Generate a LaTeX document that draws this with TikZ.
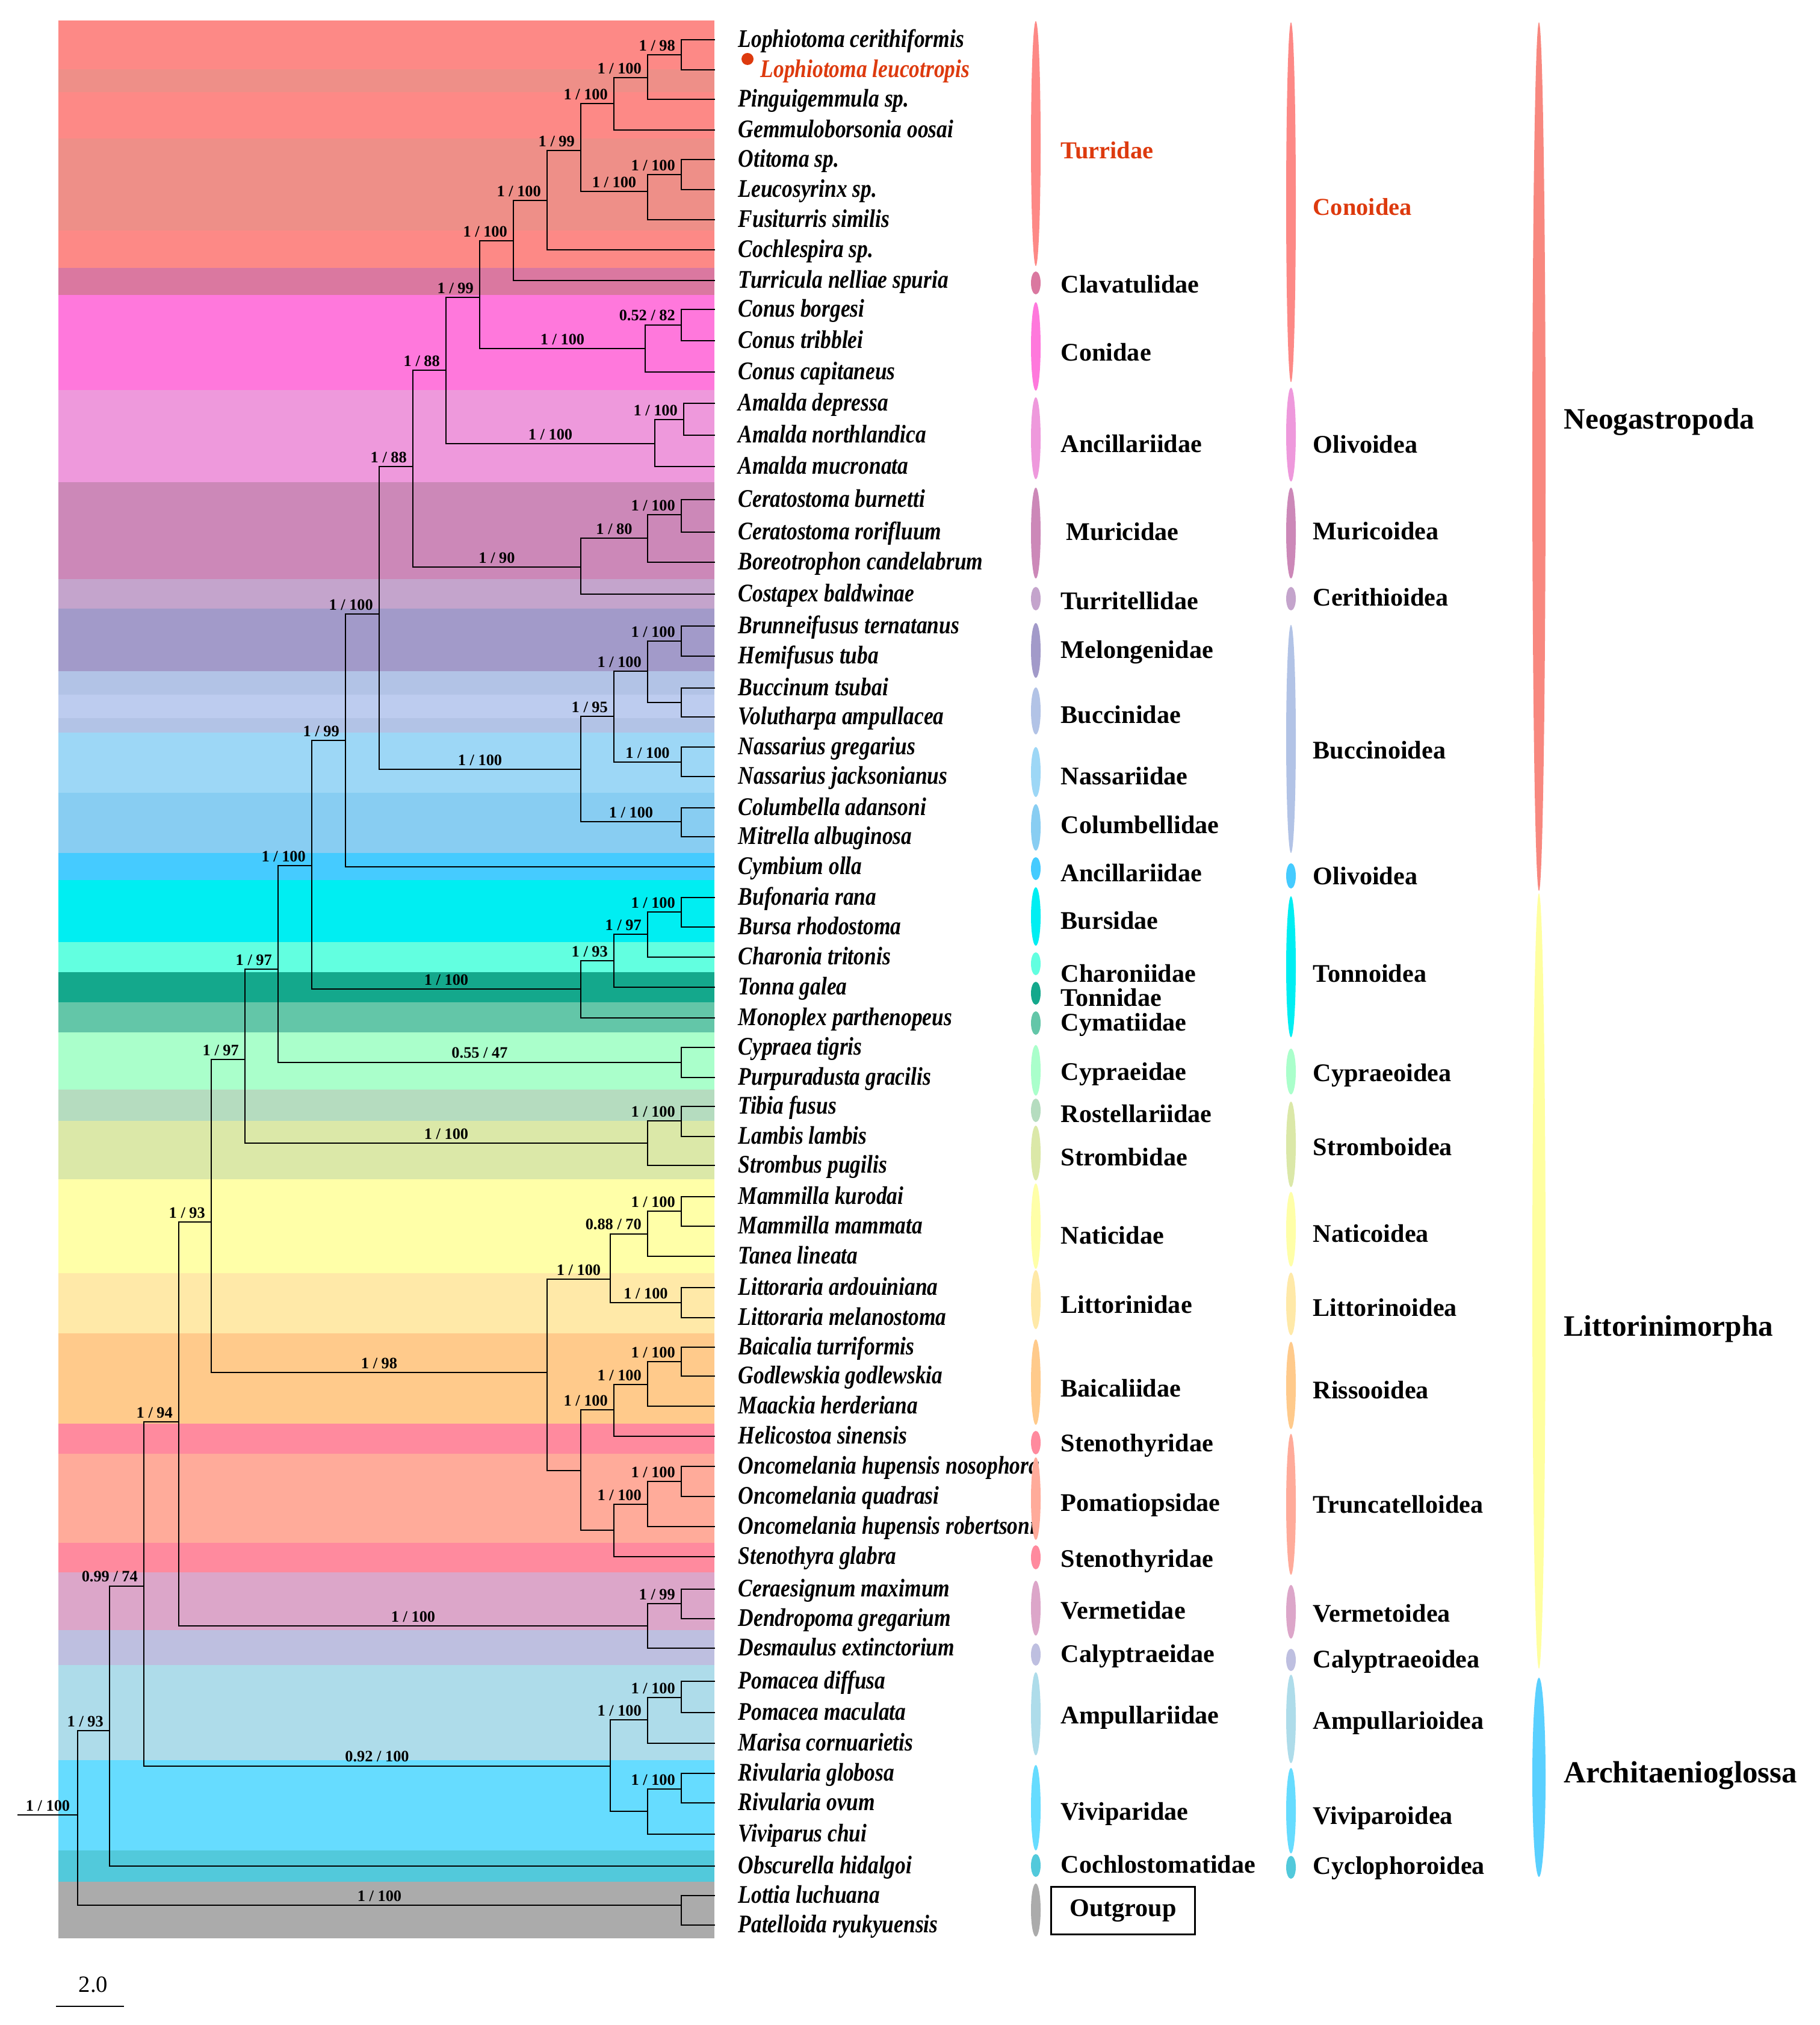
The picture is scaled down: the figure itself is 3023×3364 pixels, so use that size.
\documentclass[tikz,border=0pt]{standalone}
\usepackage{fontspec}
\setmainfont{Liberation Serif}
\newfontfamily\taxfont{Liberation Serif}[FakeStretch=0.84]
\usetikzlibrary{positioning}

\definecolor{hl}{HTML}{DD3A0E}
\definecolor{cTurr}{HTML}{FD8986}\definecolor{cTurrB}{HTML}{EE8F88}
\definecolor{cClav}{HTML}{DA78A0}\definecolor{cCon}{HTML}{FF78DC}
\definecolor{cAnc}{HTML}{EE99DC}\definecolor{cMur}{HTML}{CC88B8}
\definecolor{cCost}{HTML}{C4A4CC}\definecolor{cMel}{HTML}{A29AC9}
\definecolor{cBuc}{HTML}{B2C3E6}\definecolor{cBucB}{HTML}{BDCCEF}
\definecolor{cNas}{HTML}{9DD7F6}\definecolor{cCol}{HTML}{88CDF2}
\definecolor{cCym}{HTML}{45CBFF}\definecolor{cBur}{HTML}{00EEF2}
\definecolor{cCha}{HTML}{62FFE0}\definecolor{cTon}{HTML}{14A88C}
\definecolor{cCyma}{HTML}{63C6A8}\definecolor{cCyp}{HTML}{AAFFCB}
\definecolor{cRos}{HTML}{B5DCBF}\definecolor{cStr}{HTML}{DBE8A8}
\definecolor{cNat}{HTML}{FFFFA8}\definecolor{cLit}{HTML}{FFE9A8}
\definecolor{cBai}{HTML}{FFCA8B}\definecolor{cSte}{HTML}{FF8A9E}
\definecolor{cPom}{HTML}{FFAB9A}\definecolor{cVer}{HTML}{DCA6C9}
\definecolor{cCal}{HTML}{BEBFE0}\definecolor{cAmp}{HTML}{AEDCEA}
\definecolor{cViv}{HTML}{66DCFF}\definecolor{cCoc}{HTML}{52C9DB}
\definecolor{cOut}{HTML}{ABABAB}\definecolor{cNeo}{HTML}{F8887F}
\definecolor{cLtm}{HTML}{FFFFA0}\definecolor{cArc}{HTML}{5AD0FF}

\tikzset{
  branch/.style={line width=0.8pt, line cap=rect},
  taxon/.style={anchor=base west, yshift=-3.5pt, inner sep=0pt, font=\taxfont\bfseries\itshape\fontsize{12}{14}\selectfont},
  sup/.style={pos=.75, above=1pt, inner sep=0.5pt, font=\bfseries\fontsize{7.5}{9}\selectfont},
  supr/.style={pos=1, anchor=south east, xshift=-2pt, yshift=1pt, inner sep=0.5pt, font=\bfseries\fontsize{7.5}{9}\selectfont},
  famtxt/.style={anchor=base west, yshift=-4pt, inner sep=0pt, font=\bfseries\fontsize{12}{14}\selectfont},
  ordtxt/.style={anchor=base west, yshift=-4.7pt, inner sep=0pt, font=\bfseries\fontsize{14}{16}\selectfont}
}
\newcommand{\band}[3]{\fill[#3] (97,#1) rectangle (1187,#2);}
\newcommand{\taxon}[3]{\coordinate (#1) at (1187,#2); \node[taxon] (#1n) at (1226,#2) {#3};}
\newcommand{\clade}[3]{\coordinate (#1) at (#2,#3);}
\newcommand{\brn}[2]{\draw[branch] (#1) |- (#2);}
\newcommand{\brS}[3]{\draw[branch] (#1) |- node[sup] {#3} (#2);}
\newcommand{\brR}[3]{\draw[branch] (#1) |- node[supr] {#3} (#2);}
\newcommand{\famlab}[6]{\fill[#4] (1721,{(#2+#3)/2}) ellipse [x radius=8, y radius={(#3-#2)/2}]; \node[famtxt] (#1) at (1762,#5) {#6};}
\newcommand{\sfamlab}[6]{\fill[#4] (2145,{(#2+#3)/2}) ellipse [x radius=8, y radius={(#3-#2)/2}]; \node[famtxt] (#1) at (2181,#5) {#6};}
\newcommand{\ordlab}[6]{\fill[#4] (2557,{(#2+#3)/2}) ellipse [x radius=11, y radius={(#3-#2)/2}]; \node[ordtxt] (#1) at (2598,#5) {#6};}

\begin{document}
\begin{tikzpicture}[x=0.01cm,y=-0.01cm]
\useasboundingbox (0,0) rectangle (3023,3364);
% coloured bands behind the tree
\band{34}{445}{cTurr} \band{115}{153}{cTurrB} \band{230}{383}{cTurrB}
\band{445}{490}{cClav} \band{490}{648}{cCon} \band{648}{801}{cAnc}
\band{801}{962}{cMur} \band{962}{1011}{cCost} \band{1011}{1115}{cMel}
\band{1115}{1217}{cBuc} \band{1154}{1193}{cBucB} \band{1217}{1317}{cNas}
\band{1317}{1417}{cCol} \band{1417}{1462}{cCym} \band{1462}{1565}{cBur}
\band{1565}{1615}{cCha} \band{1615}{1665}{cTon} \band{1665}{1715}{cCyma}
\band{1715}{1810}{cCyp} \band{1810}{1862}{cRos} \band{1862}{1959}{cStr}
\band{1959}{2115}{cNat} \band{2115}{2215}{cLit} \band{2215}{2365}{cBai}
\band{2365}{2415}{cSte} \band{2415}{2563}{cPom} \band{2563}{2612}{cSte}
\band{2612}{2708}{cVer} \band{2708}{2766}{cCal} \band{2766}{2924}{cAmp}
\band{2924}{3074}{cViv} \band{3074}{3126}{cCoc} \band{3126}{3220}{cOut}

% tips
\taxon{Lcer}{66}{Lophiotoma cerithiformis}
\coordinate (Lleu) at (1187,116); \node[taxon, text=hl] (Lleun) at (1263,116) {Lophiotoma leucotropis};
\node[circle, fill=hl, inner sep=0pt, minimum size=0.2cm] (mark) at (1242,98) {};
\taxon{Ping}{165}{Pinguigemmula sp.}
\taxon{Gemm}{216}{Gemmuloborsonia oosai}
\taxon{Otit}{265}{Otitoma sp.}
\taxon{Leuc}{315}{Leucosyrinx sp.}
\taxon{Fusi}{365}{Fusiturris similis}
\taxon{Coch}{415}{Cochlespira sp.}
\taxon{Turr}{466}{Turricula nelliae spuria}
\taxon{Cbor}{514}{Conus borgesi}
\taxon{Ctri}{566}{Conus tribblei}
\taxon{Ccap}{618}{Conus capitaneus}
\taxon{Adep}{670}{Amalda depressa}
\taxon{Anor}{723}{Amalda northlandica}
\taxon{Amuc}{775}{Amalda mucronata}
\taxon{Cbur}{830}{Ceratostoma burnetti}
\taxon{Cror}{884}{Ceratostoma rorifluum}
\taxon{Bore}{934}{Boreotrophon candelabrum}
\taxon{Cost}{987}{Costapex baldwinae}
\taxon{Brun}{1040}{Brunneifusus ternatanus}
\taxon{Hemi}{1090}{Hemifusus tuba}
\taxon{Bucc}{1143}{Buccinum tsubai}
\taxon{Volu}{1191}{Volutharpa ampullacea}
\taxon{Ngre}{1241}{Nassarius gregarius}
\taxon{Njac}{1290}{Nassarius jacksonianus}
\taxon{Colu}{1342}{Columbella adansoni}
\taxon{Mitr}{1390}{Mitrella albuginosa}
\taxon{Cymb}{1440}{Cymbium olla}
\taxon{Bufo}{1491}{Bufonaria rana}
\taxon{Burs}{1540}{Bursa rhodostoma}
\taxon{Char}{1590}{Charonia tritonis}
\taxon{Tonn}{1640}{Tonna galea}
\taxon{Mono}{1691}{Monoplex parthenopeus}
\taxon{Cypr}{1740}{Cypraea tigris}
\taxon{Purp}{1790}{Purpuradusta gracilis}
\taxon{Tibi}{1838}{Tibia fusus}
\taxon{Lamb}{1888}{Lambis lambis}
\taxon{Stro}{1936}{Strombus pugilis}
\taxon{Mkur}{1988}{Mammilla kurodai}
\taxon{Mmam}{2037}{Mammilla mammata}
\taxon{Tane}{2087}{Tanea lineata}
\taxon{Lard}{2139}{Littoraria ardouiniana}
\taxon{Lmel}{2189}{Littoraria melanostoma}
\taxon{Baic}{2238}{Baicalia turriformis}
\taxon{Godl}{2286}{Godlewskia godlewskia}
\taxon{Maac}{2336}{Maackia herderiana}
\taxon{Heli}{2386}{Helicostoa sinensis}
\taxon{Onos}{2436}{Oncomelania hupensis nosophora}
\taxon{Oqua}{2486}{Oncomelania quadrasi}
\taxon{Orob}{2536}{Oncomelania hupensis robertsoni}
\taxon{Sten}{2586}{Stenothyra glabra}
\taxon{Cera}{2640}{Ceraesignum maximum}
\taxon{Dend}{2689}{Dendropoma gregarium}
\taxon{Desm}{2738}{Desmaulus extinctorium}
\taxon{Pdif}{2793}{Pomacea diffusa}
\taxon{Pmac}{2845}{Pomacea maculata}
\taxon{Mari}{2896}{Marisa cornuarietis}
\taxon{Rglo}{2946}{Rivularia globosa}
\taxon{Rovu}{2995}{Rivularia ovum}
\taxon{Vivi}{3047}{Viviparus chui}
\taxon{Obsc}{3100}{Obscurella hidalgoi}
\taxon{Lott}{3149}{Lottia luchuana}
\taxon{Pate}{3198}{Patelloida ryukyuensis}

% internal nodes
\clade{nLL}{1132}{91} \clade{nLP}{1076}{129} \clade{nLPG}{1020}{172}
\clade{nOL}{1132}{290} \clade{nOLF}{1076}{318} \clade{nT1}{965}{250}
\clade{nT2}{909}{333} \clade{nT3}{853}{400} \clade{nC1}{1132}{540}
\clade{nC2}{1072}{579} \clade{nTC}{797}{494} \clade{nA1}{1136}{697}
\clade{nA2}{1088}{737} \clade{nTCA}{741}{615} \clade{nM1}{1132}{855}
\clade{nM2}{1076}{894} \clade{nM3}{965}{942} \clade{nTCAM}{686}{775}
\clade{nMe}{1132}{1065} \clade{nBu}{1132}{1167} \clade{nMB}{1076}{1115}
\clade{nNa}{1132}{1266} \clade{nMBN}{1020}{1190} \clade{nCo}{1132}{1365}
\clade{nBuc}{965}{1278} \clade{nNeo1}{630}{1020} \clade{nNeo2}{574}{1230}
\clade{nTo1}{1132}{1515} \clade{nTo2}{1076}{1552} \clade{nTo3}{1020}{1596}
\clade{nTo4}{965}{1643} \clade{nNT}{518}{1438} \clade{nCy}{1132}{1765}
\clade{nNTC}{462}{1610} \clade{nS1}{1132}{1862} \clade{nS2}{1076}{1899}
\clade{nNTCS}{407}{1760} \clade{nN1}{1132}{2012} \clade{nN2}{1076}{2050}
\clade{nLi}{1132}{2164} \clade{nNL}{1014}{2125} \clade{nB1}{1132}{2262}
\clade{nB2}{1076}{2300} \clade{nB3}{1020}{2342} \clade{nP1}{1132}{2461}
\clade{nP2}{1076}{2499} \clade{nP3}{1020}{2542} \clade{nRS}{965}{2443}
\clade{nNLR}{909}{2280} \clade{nLt1}{351}{2030} \clade{nV1}{1132}{2664}
\clade{nV2}{1076}{2701} \clade{nLt2}{297}{2362} \clade{nAp1}{1132}{2820}
\clade{nAp2}{1076}{2857} \clade{nVi1}{1132}{2972} \clade{nVi2}{1076}{3009}
\clade{nAr}{1014}{2934} \clade{nLt3}{239}{2635} \clade{nCae}{182}{2875}
\clade{nOut}{1132}{3165} \clade{root}{129}{3015} \coordinate (stem) at (30,3015);

% branches
\brn{nLL}{Lcer} \brn{nLL}{Lleu} \brR{nLP}{nLL}{1 / 98} \brn{nLP}{Ping}
\brR{nLPG}{nLP}{1 / 100} \brn{nLPG}{Gemm}
\brn{nOL}{Otit} \brn{nOL}{Leuc} \brR{nOLF}{nOL}{1 / 100} \brn{nOLF}{Fusi}
\brR{nT1}{nLPG}{1 / 100} \brS{nT1}{nOLF}{1 / 100}
\brR{nT2}{nT1}{1 / 99} \brn{nT2}{Coch}
\brR{nT3}{nT2}{1 / 100} \brn{nT3}{Turr}
\brn{nC1}{Cbor} \brn{nC1}{Ctri} \brR{nC2}{nC1}{0.52 / 82} \brn{nC2}{Ccap}
\brR{nTC}{nT3}{1 / 100} \brS{nTC}{nC2}{1 / 100}
\brn{nA1}{Adep} \brn{nA1}{Anor} \brR{nA2}{nA1}{1 / 100} \brn{nA2}{Amuc}
\brR{nTCA}{nTC}{1 / 99} \brS{nTCA}{nA2}{1 / 100}
\brn{nM1}{Cbur} \brn{nM1}{Cror} \brR{nM2}{nM1}{1 / 100} \brn{nM2}{Bore}
\brS{nM3}{nM2}{1 / 80} \brn{nM3}{Cost}
\brR{nTCAM}{nTCA}{1 / 88} \brS{nTCAM}{nM3}{1 / 90}
\brn{nMe}{Brun} \brn{nMe}{Hemi} \brn{nBu}{Bucc} \brn{nBu}{Volu}
\brR{nMB}{nMe}{1 / 100} \brn{nMB}{nBu}
\brn{nNa}{Ngre} \brn{nNa}{Njac} \brR{nMBN}{nMB}{1 / 100} \brS{nMBN}{nNa}{1 / 100}
\brn{nCo}{Colu} \brn{nCo}{Mitr} \brR{nBuc}{nMBN}{1 / 95} \brS{nBuc}{nCo}{1 / 100}
\brR{nNeo1}{nTCAM}{1 / 88} \brS{nNeo1}{nBuc}{1 / 100}
\brR{nNeo2}{nNeo1}{1 / 100} \brn{nNeo2}{Cymb}
\brn{nTo1}{Bufo} \brn{nTo1}{Burs} \brR{nTo2}{nTo1}{1 / 100} \brn{nTo2}{Char}
\brR{nTo3}{nTo2}{1 / 97} \brn{nTo3}{Tonn} \brR{nTo4}{nTo3}{1 / 93} \brn{nTo4}{Mono}
\brR{nNT}{nNeo2}{1 / 99} \brS{nNT}{nTo4}{1 / 100}
\brn{nCy}{Cypr} \brn{nCy}{Purp}
\brR{nNTC}{nNT}{1 / 100} \brS{nNTC}{nCy}{0.55 / 47}
\brn{nS1}{Tibi} \brn{nS1}{Lamb} \brR{nS2}{nS1}{1 / 100} \brn{nS2}{Stro}
\brR{nNTCS}{nNTC}{1 / 97} \brS{nNTCS}{nS2}{1 / 100}
\brn{nN1}{Mkur} \brn{nN1}{Mmam} \brR{nN2}{nN1}{1 / 100} \brn{nN2}{Tane}
\brn{nLi}{Lard} \brn{nLi}{Lmel} \brR{nNL}{nN2}{0.88 / 70} \brS{nNL}{nLi}{1 / 100}
\brn{nB1}{Baic} \brn{nB1}{Godl} \brR{nB2}{nB1}{1 / 100} \brn{nB2}{Maac}
\brR{nB3}{nB2}{1 / 100} \brn{nB3}{Heli}
\brn{nP1}{Onos} \brn{nP1}{Oqua} \brR{nP2}{nP1}{1 / 100} \brn{nP2}{Orob}
\brR{nP3}{nP2}{1 / 100} \brn{nP3}{Sten}
\brR{nRS}{nB3}{1 / 100} \brn{nRS}{nP3}
\brS{nNLR}{nNL}{1 / 100} \brn{nNLR}{nRS}
\brR{nLt1}{nNTCS}{1 / 97} \brS{nLt1}{nNLR}{1 / 98}
\brn{nV1}{Cera} \brn{nV1}{Dend} \brR{nV2}{nV1}{1 / 99} \brn{nV2}{Desm}
\brR{nLt2}{nLt1}{1 / 93} \brS{nLt2}{nV2}{1 / 100}
\brn{nAp1}{Pdif} \brn{nAp1}{Pmac} \brR{nAp2}{nAp1}{1 / 100} \brn{nAp2}{Mari}
\brn{nVi1}{Rglo} \brn{nVi1}{Rovu} \brR{nVi2}{nVi1}{1 / 100} \brn{nVi2}{Vivi}
\brR{nAr}{nAp2}{1 / 100} \brn{nAr}{nVi2}
\brR{nLt3}{nLt2}{1 / 94} \brS{nLt3}{nAr}{0.92 / 100}
\brR{nCae}{nLt3}{0.99 / 74} \brn{nCae}{Obsc}
\brn{nOut}{Lott} \brn{nOut}{Pate}
\brR{root}{nCae}{1 / 93} \brS{root}{nOut}{1 / 100}
\draw[branch] (stem) -- node[sup, pos=.5] {1 / 100} (root);

% families
\famlab{fTurr}{35}{442}{cTurr}{249}{\color{hl}\fontsize{11.5}{13}\selectfont Turridae}
\famlab{fClav}{451}{489}{cClav}{472}{Clavatulidae}
\famlab{fConi}{502}{649}{cCon}{585}{Conidae}
\famlab{fAnc1}{660}{796}{cAnc}{737}{Ancillariidae}
\famlab{fMuri}{810}{961}{cMur}{883}{\hspace{6\pgflinewidth}Muricidae}
\famlab{fTurt}{975}{1014}{cCost}{998}{Turritellidae}
\famlab{fMelo}{1035}{1126}{cMel}{1079}{Melongenidae}
\famlab{fBucc}{1142}{1220}{cBuc}{1187}{Buccinidae}
\famlab{fNass}{1241}{1324}{cNas}{1289}{Nassariidae}
\famlab{fColu}{1336}{1413}{cCol}{1370}{Columbellidae}
\famlab{fAnc2}{1424}{1462}{cCym}{1450}{Ancillariidae}
\famlab{fBurs}{1474}{1571}{cBur}{1529}{Bursidae}
\famlab{fChar}{1582}{1620}{cCha}{1617}{Charoniidae}
\famlab{fTonn}{1631}{1669}{cTon}{1657}{Tonnidae}
\famlab{fCyma}{1680}{1719}{cCyma}{1698}{Cymatiidae}
\famlab{fCypr}{1736}{1820}{cCyp}{1780}{Cypraeidae}
\famlab{fRost}{1825}{1864}{cRos}{1850}{Rostellariidae}
\famlab{fStro}{1870}{1961}{cStr}{1922}{Strombidae}
\famlab{fNati}{1966}{2108}{cNat}{2052}{Naticidae}
\famlab{fLitt}{2110}{2208}{cLit}{2167}{Littorinidae}
\famlab{fBaic}{2225}{2367}{cBai}{2306}{Baicaliidae}
\famlab{fSte1}{2377}{2416}{cSte}{2397}{Stenothyridae}
\famlab{fPoma}{2421}{2558}{cPom}{2496}{Pomatiopsidae}
\famlab{fSte2}{2567}{2607}{cSte}{2589}{Stenothyridae}
\famlab{fVerm}{2626}{2717}{cVer}{2675}{Vermetidae}
\famlab{fCaly}{2730}{2767}{cCal}{2747}{Calyptraeidae}
\famlab{fAmpu}{2778}{2916}{cAmp}{2849}{Ampullariidae}
\famlab{fVivi}{2932}{3074}{cViv}{3009}{Viviparidae}
\famlab{fCoch}{3080}{3118}{cCoc}{3097}{Cochlostomatidae}
\fill[cOut] (1721,3173) ellipse [x radius=8, y radius=44];
\node[draw, line width=0.9pt, minimum width=2.39cm, minimum height=0.79cm, font=\bfseries\fontsize{12}{14}\selectfont] (fOut) at (1866,3174) {Outgroup};

% superfamilies
\sfamlab{sCono}{37}{635}{cTurr}{343}{\color{hl}\fontsize{11.5}{13}\selectfont Conoidea}
\sfamlab{sOli1}{644}{800}{cAnc}{738}{Olivoidea}
\sfamlab{sMuri}{810}{961}{cMur}{882}{Muricoidea}
\sfamlab{sCeri}{975}{1014}{cCost}{992}{Cerithioidea}
\sfamlab{sBucc}{1038}{1417}{cBuc}{1246}{Buccinoidea}
\sfamlab{sOli2}{1434}{1476}{cCym}{1455}{Olivoidea}
\sfamlab{sTonn}{1489}{1723}{cBur}{1617}{Tonnoidea}
\sfamlab{sCypr}{1742}{1818}{cCyp}{1782}{Cypraeoidea}
\sfamlab{sStro}{1830}{1972}{cStr}{1905}{Stromboidea}
\sfamlab{sNati}{1980}{2104}{cNat}{2049}{Naticoidea}
\sfamlab{sLitt}{2114}{2218}{cLit}{2172}{Littorinoidea}
\sfamlab{sRiss}{2229}{2374}{cBai}{2309}{Rissooidea}
\sfamlab{sTrun}{2382}{2616}{cPom}{2499}{Truncatelloidea}
\sfamlab{sVerm}{2633}{2722}{cVer}{2680}{Vermetoidea}
\sfamlab{sCaly}{2739}{2776}{cCal}{2756}{Calyptraeoidea}
\sfamlab{sAmpu}{2782}{2929}{cAmp}{2858}{Ampullarioidea}
\sfamlab{sVivi}{2937}{3079}{cViv}{3016}{Viviparoidea}
\sfamlab{sCycl}{3083}{3121}{cCoc}{3099}{Cyclophoroidea}

% orders
\ordlab{oNeo}{37}{1480}{cNeo}{696}{Neogastropoda}
\ordlab{oLit}{1484}{2772}{cLtm}{2203}{Littorinimorpha}
\ordlab{oArc}{2787}{3118}{cArc}{2945}{\fontsize{14.5}{16}\selectfont Architaenioglossa}

% scale bar
\coordinate (sbL) at (93,3333); \coordinate (sbR) at (206,3333);
\draw[line width=0.8pt] (sbL) -- (sbR);
\node[font=\fontsize{11}{13}\selectfont] (sbt) at (155,3297) {2.0};
\end{tikzpicture}
\end{document}
